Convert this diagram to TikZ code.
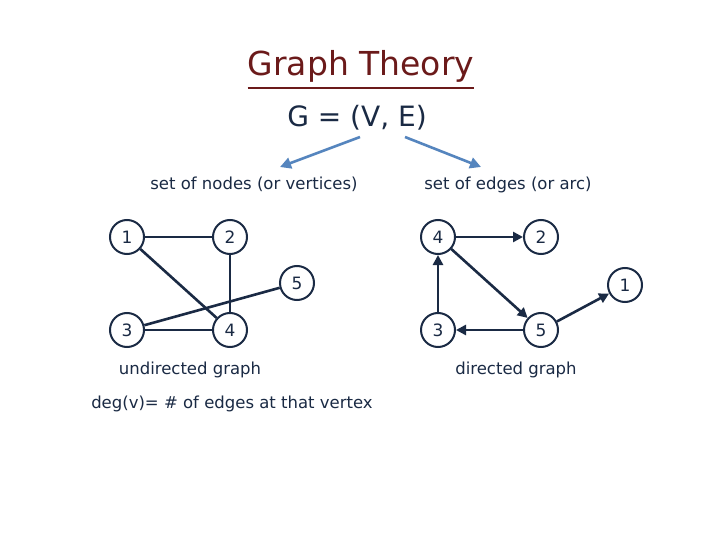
\documentclass[tikz,border=0pt]{standalone}
\usepackage{fontspec}
\setmainfont{DejaVu Sans}
\usetikzlibrary{arrows.meta}
\definecolor{navy}{HTML}{1A2A44}
\definecolor{titlered}{HTML}{6B1A1A}
\definecolor{arrblue}{HTML}{5585BE}
\begin{document}
\begin{tikzpicture}[x=1pt,y=-1pt,
  vert/.style={circle,draw=navy,line width=2pt,fill=white,minimum size=34pt,inner sep=0pt,font=\fontsize{17}{17}\selectfont,text=navy},
  edge/.style={draw=navy,line width=2.6pt},
  darc/.style={edge,-{Triangle[length=10pt,width=10pt]}},
  lbl/.style={text=navy,font=\fontsize{16.5}{18}\selectfont,inner sep=0pt},
  barrow/.style={draw=arrblue,line width=2.6pt,-{Triangle[length=11pt,width=11pt]}}]
\useasboundingbox[fill=white] (0,0) rectangle (720,540);
\node[text=titlered,font=\fontsize{33}{36}\selectfont,inner sep=0pt] (title) at (361,66) {Graph Theory};
\draw[titlered,line width=2pt] (title.south west)++(0,6) -- ([yshift=-6pt]title.south east);
\node[text=navy,font=\fontsize{28}{30}\selectfont,inner sep=0pt] (ge) at (357,118) {G = (V, E)};
\node[lbl] (nodes) at (254,184) {set of nodes (or vertices)};
\node[lbl] (edges) at (508,185) {set of edges (or arc)};
\coordinate (s1) at (360,137); \coordinate (s2) at (405,137);
\draw[barrow] (s1) -- (280,167);
\draw[barrow] (s2) -- (481,167);
% undirected
\node[vert] (a1) at (127,237) {1};
\node[vert] (a2) at (230,237) {2};
\node[vert] (a5) at (297,283) {5};
\node[vert] (a3) at (127,330) {3};
\node[vert] (a4) at (230,330) {4};
\draw[edge] (a1) -- (a2);
\draw[edge] (a1) -- (a4);
\draw[edge] (a2) -- (a4);
\draw[edge] (a3) -- (a5);
\draw[edge] (a3) -- (a4);
% directed
\node[vert] (b4) at (438,237) {4};
\node[vert] (b2) at (541,237) {2};
\node[vert] (b1) at (625,285) {1};
\node[vert] (b3) at (438,330) {3};
\node[vert] (b5) at (541,330) {5};
\draw[darc] (b4) -- (b2);
\draw[darc] (b3) -- (b4);
\draw[darc] (b4) -- (b5);
\draw[darc] (b5) -- (b3);
\draw[darc] (b5) -- (b1);
\node[lbl] (ul) at (190,370) {undirected graph};
\node[lbl] (dl) at (516,370) {directed graph};
\node[lbl] (deg) at (232,404) {deg(v)= \# of edges at that vertex};
\end{tikzpicture}
\end{document}
